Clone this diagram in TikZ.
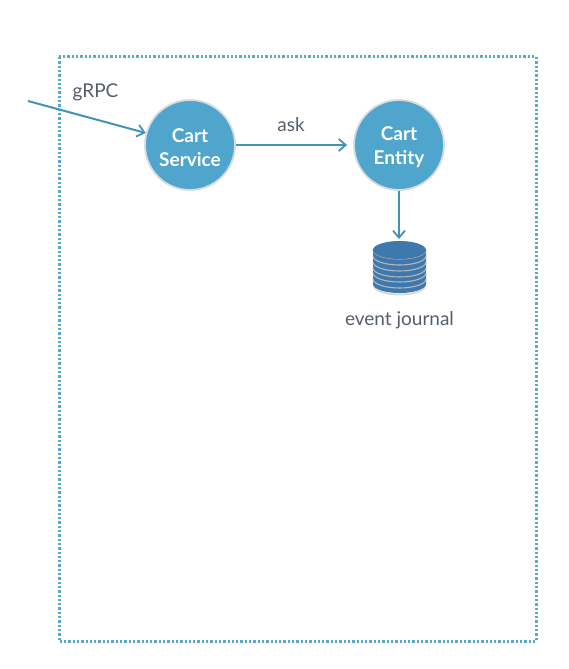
\documentclass[tikz,border=0pt]{standalone}
\usepackage{fontspec}
\setmainfont{Lato}
\usetikzlibrary{arrows.meta}
\definecolor{circ}{HTML}{4FA5CB}
\definecolor{circedge}{HTML}{D6DCDF}
\definecolor{lnk}{HTML}{4193B8}
\definecolor{dbfill}{HTML}{3F78AD}
\definecolor{dbline}{HTML}{B4B8B8}
\definecolor{dbshade}{HTML}{D8DADA}
\definecolor{txt}{HTML}{555E6B}
\definecolor{dots}{HTML}{58AACC}
\newcommand{\lowerstrut}{\rule{0pt}{19pt}}
\tikzset{x=1pt,y=-1pt,
 svc/.style={circle,draw=circedge,line width=1.8pt,fill=circ,minimum size=90pt,inner sep=0pt,text=white,align=center,font=\fontsize{19}{24}\selectfont\bfseries},
 lbl/.style={text=txt,font=\fontsize{19}{22}\selectfont,inner sep=0pt},
 link/.style={draw=lnk,line width=2pt,-{Straight Barb[length=7pt,width=12pt,line width=1.8pt]}},
 band/.style={draw=dbline,line width=1.1pt},
 boxline/.style={dots,line width=3pt,dash pattern=on 2.3pt off 2pt}}
\begin{document}
\begin{tikzpicture}
\useasboundingbox (0,0) rectangle (568,669);
\draw[boxline] (59,57) rectangle (536,641);
\node[svc] (svc) at (190,145) {\lowerstrut Cart\\Service};
\node[svc] (ent) at (399,145) {\lowerstrut Cart\\Entity};
\coordinate (ext) at (28,101);
\node[lbl] (grpc) at (95.5,92) {gRPC};
\node[lbl] (ask) at (291,125) {ask};
\node[lbl] (ej) at (399.5,320) {event journal};
% journal cylinder
\draw[dbshade,line width=2pt] (374,285.5) arc[start angle=180,end angle=360,x radius=25.5,y radius=-9];
\fill[dbfill] (373,250) -- (373,284) arc[start angle=180,end angle=360,x radius=26.5,y radius=-9] -- (426,250) -- cycle;
\foreach \yy in {250,256,262,268,273,279}{
 \draw[band] (373,\yy) arc[start angle=180,end angle=360,x radius=26.5,y radius=-9];
}
\fill[dbfill] (373,250) arc[start angle=180,end angle=-180,x radius=26.5,y radius=9];
\coordinate (dbtop) at (399,239);
\draw[link] (ext) -- (svc);
\draw[link,shorten >=6pt] (svc) -- (ent);
\draw[link] (ent) -- (dbtop);
\end{tikzpicture}
\end{document}
